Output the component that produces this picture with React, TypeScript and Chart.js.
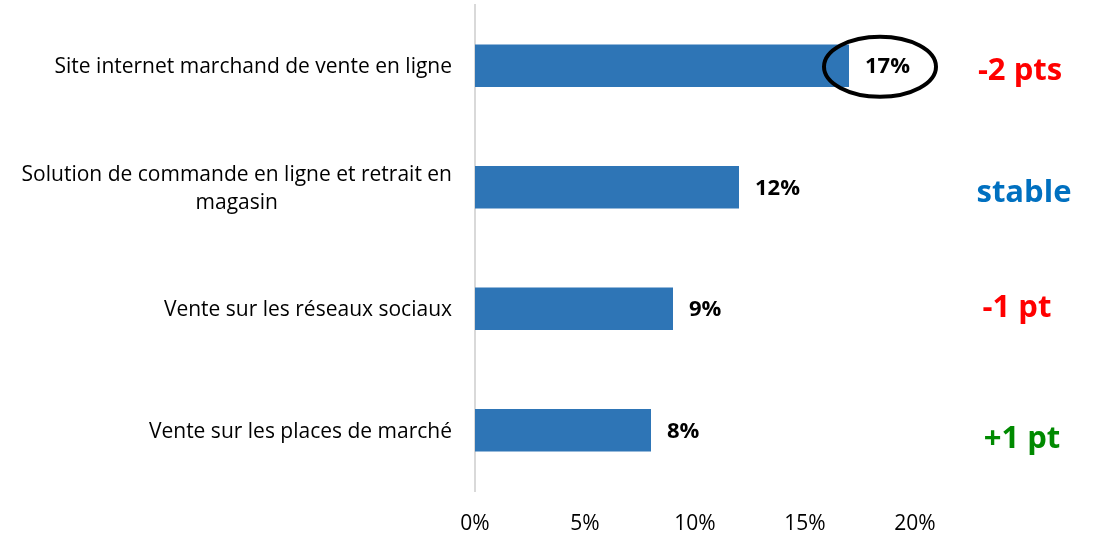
import React, { useEffect, useRef } from "react";
import { Chart, registerables } from "chart.js";

Chart.register(...registerables);

const categories: string[][] = [
  ["Site internet marchand de vente en ligne"],
  ["Solution de commande en ligne et retrait en", "magasin"],
  ["Vente sur les réseaux sociaux"],
  ["Vente sur les places de marché"],
];
const values: number[] = [17, 12, 9, 8];
const changes: string[] = ["-2 pts", "stable", "-1 pt", "+1 pt"];
const changeColors: string[] = ["#FF0000", "#0070C0", "#FF0000", "#008A00"];
const xTicks: number[] = [0, 5, 10, 15, 20];
const highlighted: number[] = [0];

const FONT = "'Open Sans', Lato, sans-serif";
// hand-placed text box nudges (baseline offset from bar centre, x centre)
const noteDy = [14, 15, 8, 18];
const noteX = [1020, 1024, 1017, 1022];

export default function App() {
  const ref = useRef<HTMLCanvasElement | null>(null);
  useEffect(() => {
    document.body.style.margin = "0";
    const canvas = ref.current;
    if (!canvas) return;

    const overlay = {
      id: "overlay",
      afterDatasetsDraw(chart: any) {
        const ctx = chart.ctx;
        const xs = chart.scales.x;
        const ys = chart.scales.y;
        ctx.save();
        // category labels
        ctx.fillStyle = "#000";
        ctx.font = `21px ${FONT}`;
        ctx.textBaseline = "middle";
        const lineH = 28;
        categories.forEach((lines, i) => {
          const y = ys.getPixelForValue(i) + 1.5;
          const widths = lines.map((l) => ctx.measureText(l).width);
          const widest = Math.max(...widths);
          const right = xs.left - 23;
          const cx = right - widest / 2;
          ctx.textAlign = "center";
          lines.forEach((l, k) => {
            const ly = y + (k - (lines.length - 1) / 2) * lineH;
            ctx.fillText(l, cx, ly);
          });
        });
        // value labels
        ctx.font = `bold 22px ${FONT}`;
        ctx.textAlign = "left";
        values.forEach((v, i) => {
          const x = xs.getPixelForValue(v) + 16;
          const y = ys.getPixelForValue(i);
          ctx.fillText(`${v}%`, x, y + 1);
        });
        // highlight ellipse
        highlighted.forEach((i) => {
          const cx = xs.getPixelForValue(values[i]) + 31;
          const cy = ys.getPixelForValue(i) + 1;
          ctx.beginPath();
          ctx.ellipse(cx, cy, 56, 30, 0, 0, Math.PI * 2);
          ctx.lineWidth = 4;
          ctx.strokeStyle = "#000";
          ctx.stroke();
        });
        // change annotations
        ctx.font = `bold 31px ${FONT}`;
        ctx.textAlign = "center";
        ctx.textBaseline = "alphabetic";
        changes.forEach((c, i) => {
          const y = ys.getPixelForValue(i) + noteDy[i];
          ctx.fillStyle = changeColors[i];
          ctx.fillText(c, noteX[i], y);
        });
        ctx.restore();
      },
    };

    const chart = new Chart(canvas, {
      type: "bar",
      data: {
        labels: categories.map((c) => c.join(" ")),
        datasets: [
          {
            data: values,
            backgroundColor: "#2E75B6",
            barPercentage: 0.35,
            categoryPercentage: 1,
          },
        ],
      },
      options: {
        indexAxis: "y",
        animation: false,
        responsive: false,
        maintainAspectRatio: false,
        layout: { padding: { top: 5, right: 184, left: 0, bottom: 0 } },
        plugins: { legend: { display: false }, tooltip: { enabled: false } },
        scales: {
          x: {
            min: 0,
            max: 20,
            afterBuildTicks: (s: any) => {
              s.ticks = xTicks.map((v) => ({ value: v }));
            },
            afterFit: (s: any) => {
              s.height = 43;
            },
            grid: { display: false, drawTicks: false },
            border: { display: false },
            ticks: {
              padding: 20,
              color: "#000",
              font: { family: FONT, size: 21 },
              callback: (v: any) => `${v}%`,
              maxRotation: 0,
            },
          },
          y: {
            afterFit: (s: any) => {
              s.width = 475;
            },
            grid: { display: false, drawTicks: false },
            border: { display: true, color: "#D9D9D9", width: 2 },
            ticks: { display: false },
          },
        },
      },
      plugins: [overlay],
    });
    return () => chart.destroy();
  }, []);

  return (
    <div style={{ position: "absolute", left: 0, top: 0, width: 1099, height: 534 }}>
      <canvas ref={ref} width={1099} height={534} style={{ width: 1099, height: 534 }} />
    </div>
  );
}
